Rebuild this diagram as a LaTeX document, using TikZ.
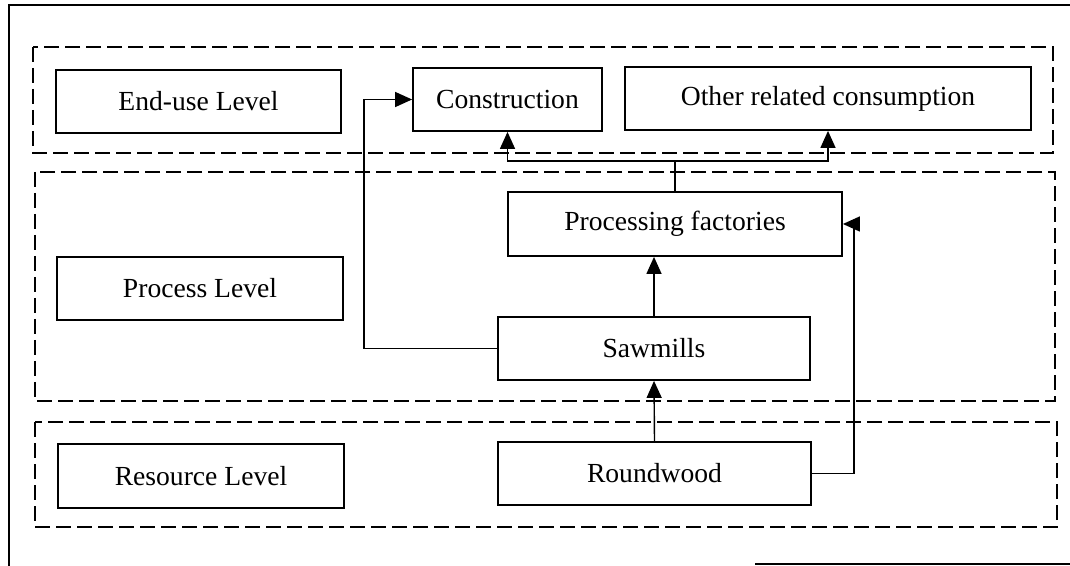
\documentclass[tikz,border=0pt]{standalone}
\usepackage{fontspec}
\setmainfont{Liberation Serif}
\usetikzlibrary{arrows.meta}
\begin{document}
\begin{tikzpicture}
[x=0.5pt, y=-0.5pt,
 box/.style={draw, line width=0.9pt, inner sep=0pt, font=\fontsize{13.8}{16}\selectfont},
 zone/.style={draw, line width=0.75pt, dash pattern=on 7.5pt off 3pt},
 flow/.style={line width=0.7pt, -{Triangle[length=8.5pt, width=7.5pt]}}]
\useasboundingbox (0,0) rectangle (1070,566);
\draw[line width=0.8pt] (1070,5) -- (9,5) -- (9,566);
\draw[line width=0.8pt] (755,564) -- (1070,564);
\draw[zone] (33,47) rectangle (1053,153);
\draw[zone] (35,172) rectangle (1055,401);
\draw[zone] (35,422) rectangle (1057,527);
\node[box, minimum width=142.5pt, minimum height=31.5pt] (endlvl) at (198.5,101.5) {End-use Level};
\node[box, minimum width=143pt, minimum height=31.5pt] (proclvl) at (200,288.5) {Process Level};
\node[box, minimum width=143pt, minimum height=32pt] (reslvl) at (201,476) {Resource Level};
\node[box, minimum width=94.5pt, minimum height=31.5pt] (constr) at (507.5,99.5) {Construction};
\node[box, minimum width=203pt, minimum height=31.5pt] (other) at (828,98.5) {Other related consumption};
\node[box, minimum width=167pt, minimum height=32pt] (procfac) at (675,224) {Processing factories};
\node[box, minimum width=156pt, minimum height=31.5pt] (saw) at (654,348.5) {Sawmills};
\node[box, minimum width=156.5pt, minimum height=31.5pt] (round) at (654.5,473.5) {Roundwood};
\coordinate (split) at (675,161);
\draw[line width=0.7pt] (procfac.north) -- (split);
\draw[flow] (split) -| (constr.south);
\draw[flow] (split) -| (other.south);
\draw[flow] (round.north) -- (saw.south);
\draw[flow] (saw.north) -- (saw.north |- procfac.south);
\draw[flow] (saw.west) -- ++(-133,0) |- (constr.west);
\draw[flow] (round.east) -- ++(42,0) |- (procfac.east);
\end{tikzpicture}
\end{document}
